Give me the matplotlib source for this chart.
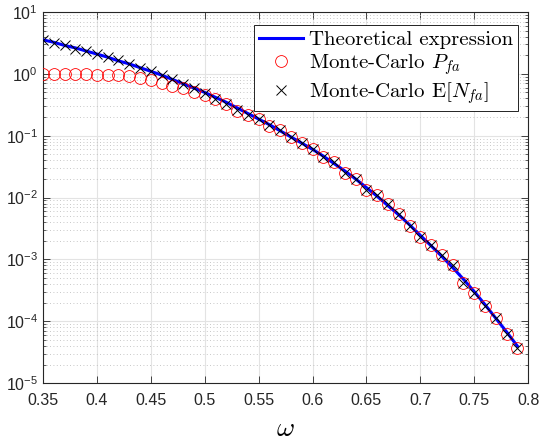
import numpy as np
import matplotlib.pyplot as plt
from matplotlib.ticker import LogLocator, NullFormatter

plt.rcParams['mathtext.fontset'] = 'cm'
plt.rcParams['font.family'] = ['Liberation Sans', 'DejaVu Sans']
plt.rcParams['axes.formatter.use_mathtext'] = True

# omega grid (0.35 .. 0.79, step 0.01)
omega = np.round(np.arange(35, 80) / 100, 2)

# Theoretical expression
theory = [3.55, 3.24, 2.88, 2.63, 2.34, 2.09, 1.86, 1.62, 1.45, 1.26,
          1.10, 0.955, 0.813, 0.692, 0.589, 0.501, 0.417, 0.347, 0.282, 0.229,
          0.186, 0.151, 0.120, 0.0955, 0.0759, 0.0603, 0.0468, 0.0355, 0.0269, 0.0200,
          0.0145, 0.0105, 0.00741, 0.00525, 0.00363, 0.00245, 0.00166, 0.00112, 7.41e-4, 4.79e-4,
          3.02e-4, 1.86e-4, 1.12e-4, 6.76e-5, 3.98e-5]

# Monte-Carlo E[N_fa]
mc_nfa = [3.55, 3.16, 2.88, 2.57, 2.34, 2.09, 1.86, 1.66, 1.45, 1.26,
          1.10, 0.955, 0.813, 0.692, 0.589, 0.490, 0.389, 0.324, 0.257, 0.219,
          0.186, 0.148, 0.123, 0.0955, 0.0776, 0.0617, 0.0457, 0.0372, 0.0251, 0.0200,
          0.0132, 0.0110, 0.00794, 0.00550, 0.00347, 0.00229, 0.00170, 0.00120, 8.13e-4, 4.17e-4,
          2.82e-4, 1.78e-4, 1.12e-4, 6.17e-5, 3.72e-5]

# Monte-Carlo P_fa
mc_pfa = [0.989, 0.989, 0.986, 0.982, 0.977, 0.971, 0.959, 0.944, 0.923, 0.871,
          0.794, 0.708, 0.646, 0.589, 0.513, 0.457, 0.398, 0.331, 0.252, 0.216,
          0.183, 0.146, 0.122, 0.0945, 0.0770, 0.0612, 0.0455, 0.0370, 0.0250, 0.0199,
          0.0131, 0.0110, 0.00792, 0.00549, 0.00347, 0.00229, 0.00170, 0.00120, 8.12e-4, 4.17e-4,
          2.82e-4, 1.78e-4, 1.12e-4, 6.17e-5, 3.72e-5]

xticks = [0.35, 0.4, 0.45, 0.5, 0.55, 0.6, 0.65, 0.7, 0.75, 0.8]
xticklabels = ['0.35', '0.4', '0.45', '0.5', '0.55', '0.6', '0.65', '0.7', '0.75', '0.8']

fig = plt.figure(figsize=(5.39, 4.45), dpi=100)
ax = fig.add_axes([0.0798, 0.139, 0.9, 0.834])

ax.semilogy(omega, theory, color='#0000ff', lw=2.2, label=r'Theoretical expression', zorder=3)
ax.semilogy(omega, mc_pfa, 'o', mfc='none', mec='#ff0000', ms=8.5, mew=0.6,
            label=r'Monte-Carlo $P_{fa}$', zorder=4)
ax.semilogy(omega, mc_nfa, 'x', color='black', ms=6.5, mew=0.7,
            label=r'Monte-Carlo $\mathrm{E}[N_{fa}]$', zorder=5)

ax.set_xlim(0.35, 0.8)
ax.set_ylim(1e-5, 1e1)
ax.set_xticks(xticks)
ax.set_xticklabels(xticklabels)
ax.yaxis.set_major_locator(LogLocator(base=10, numticks=10))
ax.yaxis.set_minor_locator(LogLocator(base=10, subs=np.arange(2, 10), numticks=20))
ax.yaxis.set_minor_formatter(NullFormatter())

ax.grid(True, which='major', color='#e3e3e3', lw=0.8, ls='-')
ax.grid(True, which='minor', axis='y', color='#b5b5b5', lw=0.6, ls=(0, (1, 3)))
ax.set_axisbelow(True)

ax.tick_params(which='both', direction='in', top=True, right=True,
               colors='#262626', labelsize=11.5)
ax.tick_params(which='major', length=5, width=0.6)
ax.tick_params(axis='x', which='major', pad=7)
ax.tick_params(which='minor', length=2.5, width=0.5)
for s in ax.spines.values():
    s.set_color('#262626')
    s.set_linewidth(0.8)

ax.set_xlabel(r'$\omega$', fontsize=20, labelpad=6)

leg = ax.legend(loc='upper right', prop={'family': 'cmr10', 'size': 15},
                fancybox=False, edgecolor='black', framealpha=1,
                bbox_to_anchor=(0.98, 0.965), borderaxespad=0,
                handlelength=2.1, labelspacing=0.15,
                borderpad=0.25, handletextpad=0.3)
leg.get_frame().set_linewidth(0.6)

fig.savefig('out.png', dpi=100)
